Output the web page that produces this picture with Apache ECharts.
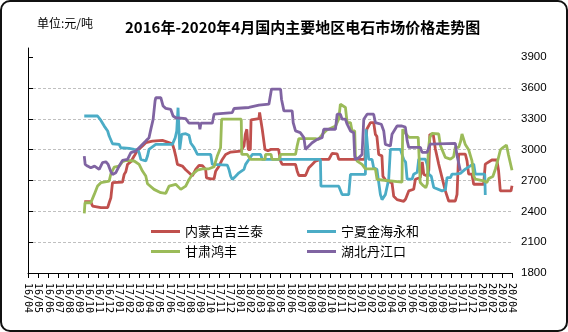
<!DOCTYPE html>
<html><head><meta charset="utf-8">
<script src="https://cdn.jsdelivr.net/npm/echarts@6/dist/echarts.min.js"></script>
<style>
html,body{margin:0;padding:0;background:#fff}
#wrap{position:relative;width:568px;height:332px}
#c{width:568px;height:332px}
#frame{position:absolute;left:0;top:0;width:568px;height:332px;box-sizing:border-box;border:2px solid #111;border-radius:10px;pointer-events:none}
</style>
</head><body>
<div id="wrap"><div id="c"></div><div id="frame"></div></div>
<script>
// Month tick labels (index 0 = 2016/04)
const months = ['16/04','16/05','16/06','16/07','16/08','16/09','16/10','16/11','16/12',
  '17/01','17/02','17/03','17/04','17/05','17/06','17/07','17/08','17/09','17/10','17/11','17/12',
  '18/01','18/02','18/03','18/04','18/05','18/06','18/07','18/08','18/09','18/10','18/11','18/12',
  '19/01','19/02','19/03','19/04','19/05','19/06','19/07','19/08','19/09','19/10','19/11','19/12',
  '20/01','20/02','20/03','20/04'];
const seriesNames = ['内蒙古吉兰泰','宁夏金海永和','甘肃鸿丰','湖北丹江口'];
const yTicks = [1800,2100,2400,2700,3000,3300,3600,3900];

// times are in months since 2016/04; prices in 元/吨
const redT = [5.58,6.23,6.4,7.23,7.9,8.05,8.22,8.38,9.37,9.54,9.7,9.87,10.2,10.53,10.86,11.35,11.68,12.34,13.33,14.32,14.49,14.65,14.82,15.31,15.64,15.97,16.3,16.63,16.96,17.3,17.62,17.7,18.12,18.45,18.61,18.94,19.27,19.6,20.1,21.1,21.42,21.55,21.7,21.85,22.05,22.12,22.9,22.97,23.15,23.23,23.4,23.5,23.8,24.1,24.85,25.05,25.21,26.2,26.53,26.7,26.86,27.52,27.85,28.18,28.51,29.0,29.83,30.16,30.66,30.82,33.4,33.6,33.96,34.28,34.45,34.6,34.78,35.1,35.2,35.5,36.1,36.27,36.6,37.26,37.45,37.76,38.25,38.42,38.9,39.1,39.25,39.6,39.75,39.85,40.0,40.2,40.4,40.73,41.06,41.39,41.72,42.38,42.55,42.71,43.37,43.54,43.7,44.03,44.2,45.19,45.35,46.0,46.18,46.5,46.67,46.84,47.9,48.0];
const redP = [2494,2494,2452,2436,2436,2484,2533,2679,2685,2760,2786,2857,2883,2938,2994,3036,3068,3084,3091,3058,3003,2938,2857,2841,2805,2775,2745,2808,2847,2845,2808,2726,2716,2716,2791,2840,2905,2954,2977,2987,3036,3150,3199,3000,3000,3290,3303,3362,3362,3199,3199,3003,2990,3003,3003,2889,2857,2857,2857,2791,2749,2749,2824,2857,2889,2905,2905,2964,2960,2905,2905,3199,3264,3264,3150,3130,2954,2940,2740,2700,2677,2547,2514,2498,2520,2599,2615,2713,2730,2880,2760,2745,2800,3150,3160,3140,3007,2860,2729,2599,2501,2501,2566,2958,2958,2892,2762,2762,2664,2664,2860,2900,2909,2900,2795,2599,2599,2650];

const blueT = [5.58,6.9,7.23,7.56,7.9,8.05,8.38,9.04,9.2,10.04,10.53,10.9,11.02,11.19,11.68,11.85,12.0,12.67,14.32,14.6,14.75,14.88,15.0,15.05,15.24,15.64,15.97,16.14,16.47,16.8,18.12,18.28,19.77,19.93,20.1,20.26,20.59,20.92,21.42,21.58,21.91,22.24,23.07,23.23,29.0,29.05,30.82,31.15,31.81,31.98,33.46,33.53,33.63,33.79,34.12,34.28,34.6,34.95,35.11,35.44,35.6,35.77,35.94,36.93,37.09,37.26,37.45,37.6,38.09,38.25,38.6,38.75,39.41,39.57,39.74,40.0,40.24,40.4,41.06,41.39,41.56,41.9,42.05,42.38,42.55,42.88,43.37,43.87,44.2,44.36,45.3,45.35];
const blueP = [3328,3328,3285,3230,3182,3133,3058,3052,3019,3013,3003,3000,2971,2906,2890,2938,3003,3052,3052,3117,3182,3409,3409,3003,3149,3156,3140,3066,3020,2954,2954,2857,2850,2808,2742,2710,2742,2775,2808,2857,2905,2954,2954,2905,2905,2645,2645,2563,2563,2759,2759,3199,3199,2905,2905,2824,2810,2563,2514,2563,2560,2710,3003,3003,2990,2905,2880,2713,2713,2762,2780,2909,2909,2860,2762,2740,2632,2615,2599,2610,2729,2729,2762,2762,2778,2770,2811,2843,2860,2762,2762,2560];

const greenT = [5.58,5.65,6.23,6.57,6.9,7.23,8.05,8.22,8.55,9.04,9.37,9.7,10.53,11.02,11.35,11.68,11.85,12.5,13.17,13.66,13.99,14.65,15.15,15.64,15.97,16.3,16.8,17.29,17.95,18.45,18.77,19.1,19.2,21.15,21.2,21.75,22.08,23.5,23.56,24.1,24.2,24.88,25.05,26.53,26.7,26.86,28.5,28.8,29.2,29.6,30.5,30.82,30.98,31.15,31.48,31.65,31.98,32.14,32.4,32.47,32.64,33.13,33.46,34.45,34.62,34.78,37.09,37.16,37.5,37.8,38.7,38.8,38.9,39.2,39.45,39.6,39.7,39.85,40.07,40.73,40.9,41.39,41.89,42.2,42.38,42.71,42.9,43.04,43.2,43.37,43.7,44.03,44.2,44.36,45.19,45.5,45.7,46.1,46.35,46.6,46.85,47.1,47.45,47.65,48.0];
const greenP = [2380,2484,2484,2565,2646,2679,2695,2766,2831,2841,2883,2896,2890,2857,2792,2744,2669,2614,2582,2575,2646,2663,2614,2646,2710,2759,2801,2814,2814,2834,2938,3020,3297,3297,2954,2954,2905,2905,2955,2955,2905,2905,2954,2954,3040,3108,3108,3100,3150,3190,3230,3300,3443,3460,3411,3264,3264,3183,3183,2938,2889,2857,2814,2814,2710,2694,2684,3199,3150,3120,3120,2900,2680,2650,2630,2670,3000,3120,3160,3153,3040,2925,2909,2930,3023,3023,3080,3153,3150,3050,3000,2892,2746,2713,2697,2680,2720,2740,2810,2900,3000,3020,3045,2950,2800];

const purpleT = [5.58,5.67,5.9,6.23,6.6,7.06,7.39,7.72,7.95,8.22,8.38,8.71,9.04,9.37,9.87,10.2,10.69,11.19,11.68,12.0,12.18,12.41,12.6,12.67,13.17,13.4,13.66,14.16,14.39,14.65,15.64,15.97,16.96,17.05,17.15,18.28,18.45,18.61,20.26,20.43,21.91,22.9,23.89,24.06,24.15,25.05,25.14,25.38,26.2,26.3,26.53,27.0,27.36,27.52,27.85,28.18,28.68,29.17,29.33,30.49,30.66,30.98,31.15,31.48,31.65,31.98,32.3,32.4,32.47,32.8,33.13,33.3,33.63,34.28,34.45,35.04,35.28,35.44,35.94,36.1,36.6,37.09,37.42,37.6,37.76,38.92,39.08,39.57,39.9,42.38,42.55,42.88];
const purpleP = [2938,2857,2841,2825,2840,2809,2874,2883,2857,2786,2760,2776,2841,2896,2906,2971,2987,3036,3084,3117,3198,3295,3473,3506,3506,3425,3402,3392,3328,3311,3303,3258,3258,3199,3258,3258,3346,3362,3362,3401,3411,3434,3443,3460,3590,3590,3492,3378,3378,3264,3183,3166,3117,3003,3036,3068,3101,3117,3199,3199,3346,3346,3297,3297,3248,3183,3166,2938,2905,2922,2954,3297,3346,3346,3264,3248,3183,3052,3036,3150,3231,3231,3220,3088,3023,3023,2974,2974,3055,3062,2941,2795];

const colors = ['#C0504D','#4BACC6','#9BBB59','#8064A2'];
const pairs = (t, p) => t.map((v, i) => [v, p[i]]);

const chart = echarts.init(document.getElementById('c'), null, {renderer: 'canvas'});
const cjk = 'Noto Sans CJK SC';
const mkSeries = (i, t, p) => ({
  name: seriesNames[i], type: 'line', data: pairs(t, p), showSymbol: false, symbol: 'none',
  lineStyle: {width: 2.8, color: colors[i]}, itemStyle: {color: colors[i]}, animation: false
});
chart.setOption({
  animation: false,
  backgroundColor: '#fff',
  color: colors,
  title: [
    {text: '2016年-2020年4月国内主要地区电石市场价格走势图', left: 120, top: 15,
     textStyle: {fontSize: 15, fontWeight: 'bold', color: '#000', fontFamily: cjk}},
    {text: '单位:元/吨', left: 32, top: 12,
     textStyle: {fontSize: 12, fontWeight: 'normal', color: '#000', fontFamily: cjk}}
  ],
  legend: [
    {data: [seriesNames[0], seriesNames[2]], orient: 'vertical', left: 146, top: 220,
     icon: 'rect', itemWidth: 29, itemHeight: 3, itemGap: 7,
     textStyle: {fontSize: 13, color: '#000', fontFamily: cjk}},
    {data: [seriesNames[1], seriesNames[3]], orient: 'vertical', left: 302, top: 220,
     icon: 'rect', itemWidth: 29, itemHeight: 3, itemGap: 7,
     textStyle: {fontSize: 13, color: '#000', fontFamily: cjk}}
  ],
  grid: {left: 28, right: 56, top: 48, bottom: 59, outerBoundsMode: 'none'},
  xAxis: {
    type: 'value', min: 0, max: months.length - 1, interval: 1,
    axisLine: {show: true, lineStyle: {color: '#000', width: 1}},
    axisTick: {show: true, length: 5, lineStyle: {color: '#000'}},
    splitLine: {show: false},
    axisLabel: {rotate: -90, margin: 10, fontSize: 10, fontFamily: 'DejaVu Sans Mono', color: '#000',
      padding: [10, 0, 0, 0], formatter: v => months[Math.round(v)] || ''}
  },
  yAxis: [
    {type: 'value', min: 1800, max: 3990, interval: 300, position: 'left',
     axisLine: {show: true, lineStyle: {color: '#000'}},
     axisTick: {show: true, inside: true, length: 5, lineStyle: {color: '#000'}, customValues: yTicks},
     axisLabel: {show: false},
     splitLine: {show: true, showMaxLine: false, lineStyle: {color: '#c0c0c0', type: [3, 2], width: 1}}},
    {type: 'value', min: 1800, max: 3990, interval: 300, position: 'right',
     axisLine: {show: false}, axisTick: {show: false}, splitLine: {show: false},
     axisLabel: {showMaxLabel: false, margin: 9, fontSize: 11.5, color: '#000', fontFamily: 'Liberation Sans',
       formatter: v => (yTicks.indexOf(v) >= 0 ? String(v) : '')}}
  ],
  series: [
    mkSeries(0, redT, redP),
    mkSeries(1, blueT, blueP),
    mkSeries(2, greenT, greenP),
    mkSeries(3, purpleT, purpleP)
  ]
});
</script>
</body></html>
